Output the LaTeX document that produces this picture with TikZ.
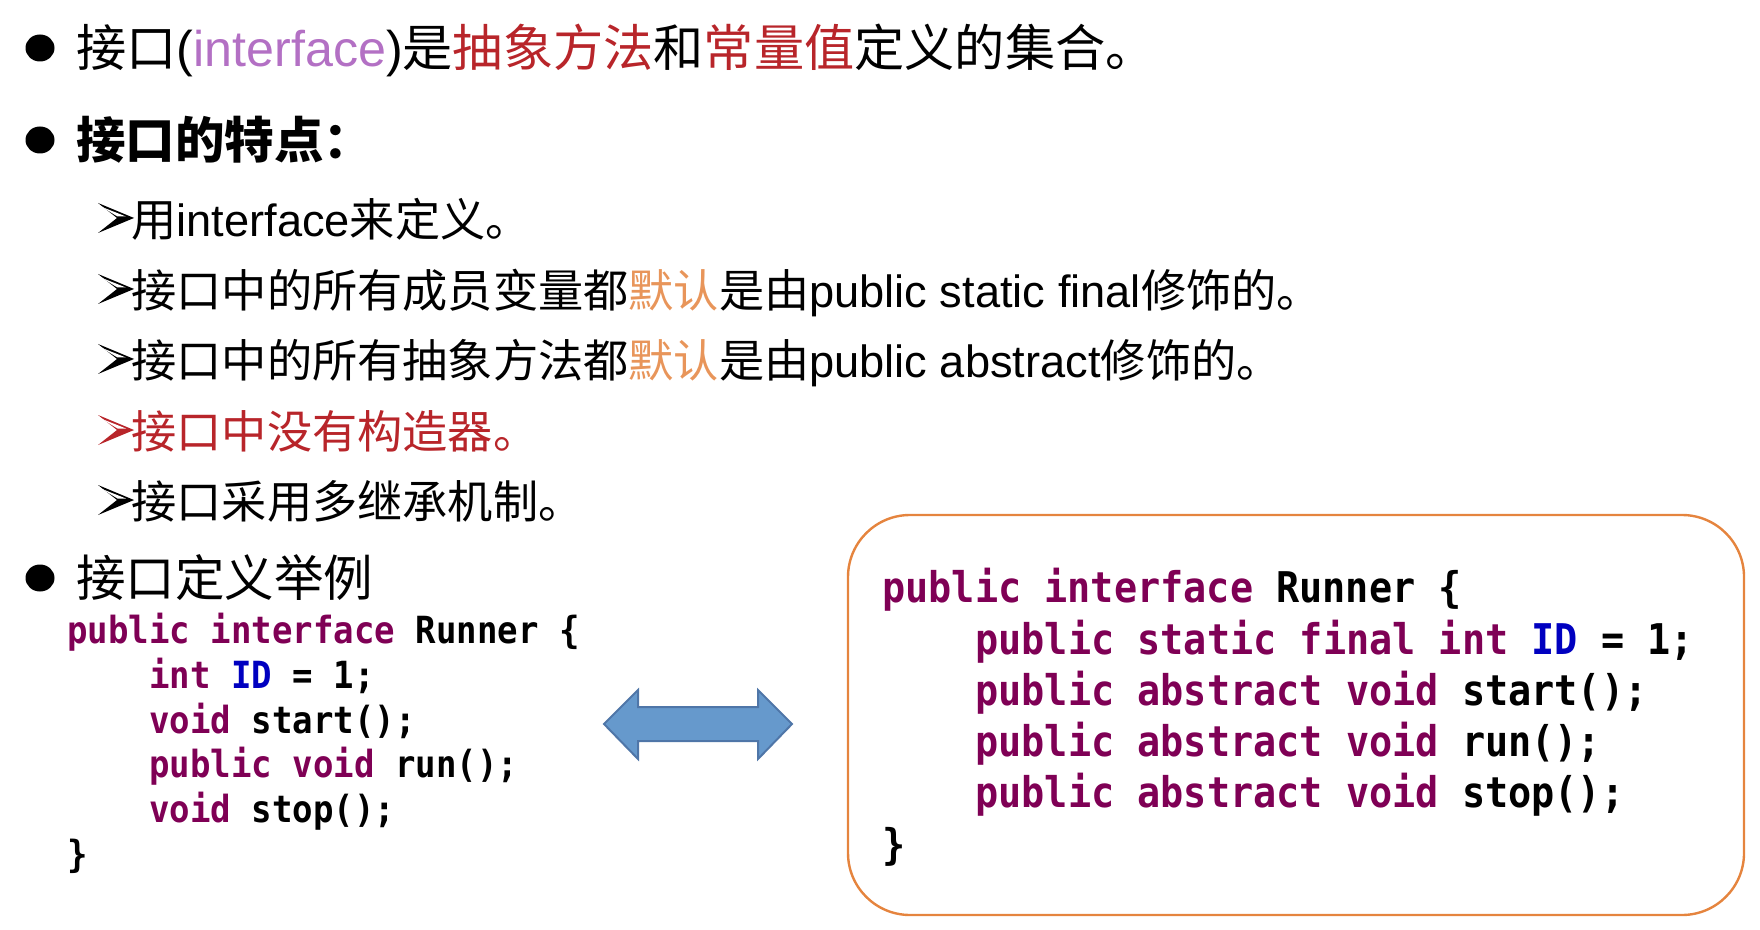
\documentclass[tikz,border=0pt]{standalone}
\usepackage{fontspec}
\setmainfont{Liberation Sans}
\newfontfamily\cjk{Noto Sans CJK SC}
\newfontfamily\codefont{DejaVu Sans Mono}[FakeStretch=0.91]
\usetikzlibrary{shapes.geometric}
\definecolor{ipurple}{HTML}{B370C4}
\definecolor{ired}{HTML}{B8252A}
\definecolor{iorange}{HTML}{E8955A}
\definecolor{kwcol}{HTML}{7F0055}
\definecolor{fldcol}{HTML}{0000C0}
\definecolor{boxor}{HTML}{E5843E}
\definecolor{arfill}{HTML}{6699CC}
\definecolor{ardraw}{HTML}{4F76A8}
\newcommand{\kwd}[1]{\textcolor{kwcol}{#1}}
\newcommand{\fldc}[1]{\textcolor{fldcol}{#1}}
\tikzset{
  txtline/.style={anchor=west, inner sep=0pt, text height=19.9pt, text depth=2.7pt,
    font=\fontsize{22.6}{26}\selectfont},
  headline/.style={anchor=west, inner sep=0pt, text height=21.8pt, text depth=3pt,
    font=\fontsize{24.75}{29}\selectfont},
  firstline/.style={anchor=west, inner sep=0pt, text height=22.1pt, text depth=3pt,
    font=\fontsize{25.1}{29}\selectfont},
  codeL/.style={anchor=base west, inner sep=0pt, font=\codefont\bfseries\fontsize{18.7}{22}\selectfont},
  codeR/.style={anchor=base west, inner sep=0pt, font=\codefont\bfseries\fontsize{21.15}{25}\selectfont},
  dotbullet/.style={ellipse, fill=black, inner sep=0pt, minimum width=14.5pt, minimum height=13.5pt},
  codebox/.style={draw=boxor, line width=1.2pt, rounded corners=31pt},
  dblarrow/.style={fill=arfill, draw=ardraw, line width=1pt, line join=miter},
  pics/ahead/.style={code={
    \fill[#1] (-18,-15) -- (18,0) -- (1,0) -- cycle;
    \fill[white] (-14,-11) -- (10,-1.5) -- (1.5,-1.5) -- cycle;
    \fill[#1] (1,0) -- (18,0) -- (-18,15) -- cycle;
  }}
}
\begin{document}
\begin{tikzpicture}[x=0.5pt,y=-0.5pt]
\useasboundingbox (0,0) rectangle (1760,930);

% line 1
\node[dotbullet] (b1) at (40,48) {};
\node[firstline] (l1) at (76,47) {{\cjk 接口}(\textcolor{ipurple}{interface}){\cjk 是}{\cjk\color{ired}抽象方法}{\cjk 和}{\cjk\color{ired}常量值}{\cjk 定义的集合。}};

% line 2
\node[dotbullet] (b2) at (40,140) {};
\node[headline] (l2) at (76,140) {{\cjk\bfseries 接口的特点：}};

% sub lines
\pic (a1) at (116,218) {ahead=black};
\node[txtline] (s1) at (131,219) {{\cjk 用}interface{\cjk 来定义。}};
\pic (a2) at (116,289) {ahead=black};
\node[txtline] (s2) at (131,290) {{\cjk 接口中的所有成员变量都}{\cjk\color{iorange}默认}{\cjk 是由}public static final{\cjk 修饰的。}};
\pic (a3) at (116,359) {ahead=black};
\node[txtline] (s3) at (131,360) {{\cjk 接口中的所有抽象方法都}{\cjk\color{iorange}默认}{\cjk 是由}public abstract{\cjk 修饰的。}};
\pic (a4) at (116,430) {ahead=ired};
\node[txtline] (s4) at (131,431) {{\cjk\color{ired}接口中没有构造器。}};
\pic (a5) at (116,500) {ahead=black};
\node[txtline] (s5) at (131,501) {{\cjk 接口采用多继承机制。}};

% line 3
\node[dotbullet] (b3) at (40,578) {};
\node[headline] (l3) at (76,578) {{\cjk 接口定义举例}};

% left code
\node[codeL] (c1) at (67,643.5) {\kwd{public} \kwd{interface} Runner \{};
\node[codeL] (c2) at (149,688.3) {\kwd{int} \fldc{ID} = 1;};
\node[codeL] (c3) at (149,733) {\kwd{void} start();};
\node[codeL] (c4) at (149,777.8) {\kwd{public} \kwd{void} run();};
\node[codeL] (c5) at (149,822.6) {\kwd{void} stop();};
\node[codeL] (c6) at (67,867.4) {\}};

% double arrow
\draw[dblarrow] (604,724) -- (638,690) -- (638,707) -- (758,707) -- (758,690) -- (792,724)
  -- (758,759) -- (758,741) -- (638,741) -- (638,759) -- cycle;

% right box
\draw[codebox] (848,515) rectangle (1744,915);
\node[codeR] (r1) at (882,602.7) {\kwd{public} \kwd{interface} Runner \{};
\node[codeR] (r2) at (975,654) {\kwd{public} \kwd{static} \kwd{final} \kwd{int} \fldc{ID} = 1;};
\node[codeR] (r3) at (975,705.3) {\kwd{public} \kwd{abstract} \kwd{void} start();};
\node[codeR] (r4) at (975,756.6) {\kwd{public} \kwd{abstract} \kwd{void} run();};
\node[codeR] (r5) at (975,807.9) {\kwd{public} \kwd{abstract} \kwd{void} stop();};
\node[codeR] (r6) at (882,859.2) {\}};
\end{tikzpicture}
\end{document}
